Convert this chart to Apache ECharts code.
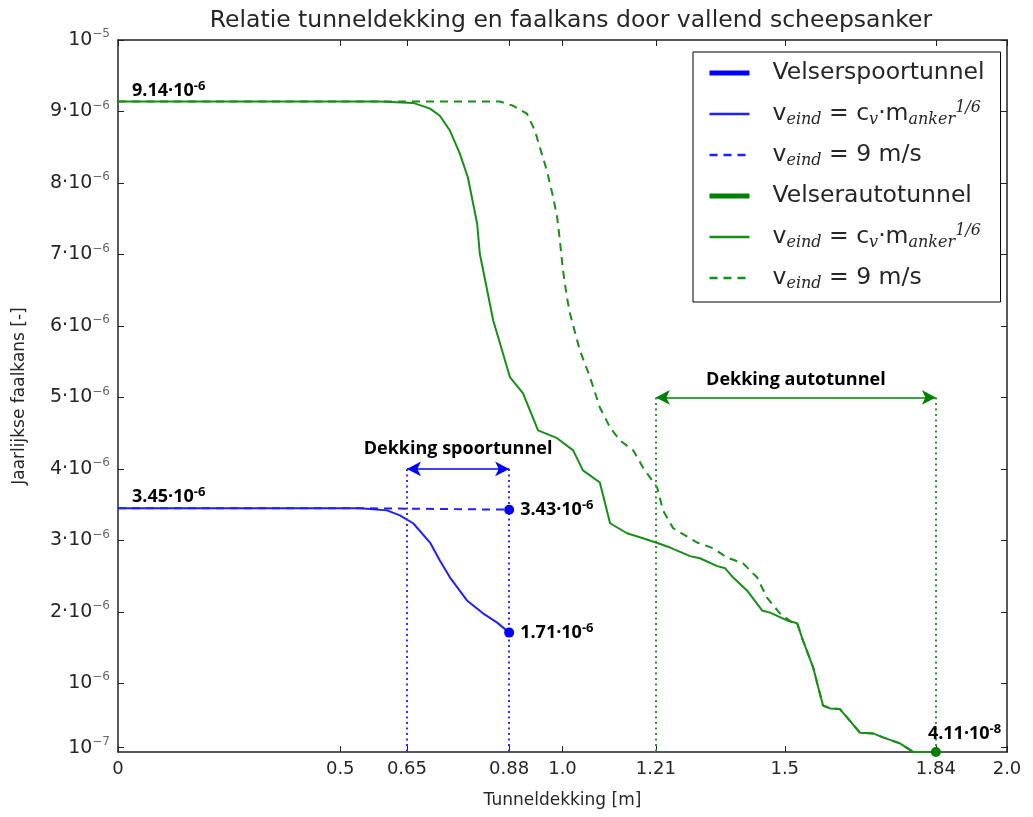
<!DOCTYPE html>
<html><head><meta charset="utf-8">
<script src="https://cdn.jsdelivr.net/npm/echarts@6/dist/echarts.min.js"></script>
<style>html,body{margin:0;padding:0;background:#fff}#c{width:1033px;height:817px}</style>
</head><body><div id="c"></div>
<script>
// ---- axis ticks ----
const xTickValues = [0, 0.5, 0.65, 0.88, 1.0, 1.21, 1.5, 1.84, 2.0];
const xTickLabels = ['0', '0.5', '0.65', '0.88', '1.0', '1.21', '1.5', '1.84', '2.0'];
// y values in units of 1e-6
const yTickValues = [0.1, 1, 2, 3, 4, 5, 6, 7, 8, 9, 10];
const yTickLabels = ['10|−7', '10|−6', '2·10|−6', '3·10|−6', '4·10|−6', '5·10|−6', '6·10|−6', '7·10|−6', '8·10|−6', '9·10|−6', '10|−5'];

// ---- series data (x: tunneldekking [m], y: faalkans in 1e-6) ----
const spoorCvX = [0, 0.544, 0.605, 0.634, 0.664, 0.702, 0.724, 0.747, 0.785, 0.821, 0.853, 0.88];
const spoorCvY = [3.45, 3.45, 3.42, 3.35, 3.24, 2.97, 2.72, 2.48, 2.16, 1.98, 1.85, 1.71];
const spoor9X = [0, 0.55, 0.88];
const spoor9Y = [3.45, 3.45, 3.43];
const autoCvX = [0, 0.589, 0.664, 0.702, 0.724, 0.747, 0.769, 0.787, 0.799, 0.808, 0.814, 0.826, 0.844, 0.882, 0.911, 0.945, 0.988, 1.024, 1.046, 1.084, 1.107, 1.145, 1.181, 1.215, 1.242, 1.287, 1.309, 1.348, 1.366, 1.384, 1.415, 1.449, 1.467, 1.505, 1.528, 1.541, 1.564, 1.586, 1.602, 1.624, 1.642, 1.669, 1.699, 1.721, 1.759, 1.789, 1.84];
const autoCvY = [9.14, 9.14, 9.12, 9.04, 8.94, 8.73, 8.41, 8.08, 7.71, 7.43, 7.01, 6.64, 6.08, 5.28, 5.06, 4.54, 4.43, 4.26, 3.98, 3.81, 3.24, 3.10, 3.03, 2.96, 2.90, 2.78, 2.75, 2.64, 2.61, 2.48, 2.30, 2.02, 1.99, 1.88, 1.84, 1.60, 1.22, 0.69, 0.65, 0.64, 0.51, 0.31, 0.30, 0.245, 0.16, 0.0411, 0.0411];
const auto9X = [0, 0.859, 0.889, 0.920, 0.938, 0.949, 0.965, 0.979, 0.988, 0.994, 1.001, 1.010, 1.017, 1.039, 1.062, 1.084, 1.107, 1.129, 1.159, 1.181, 1.213, 1.226, 1.249, 1.303, 1.339, 1.370, 1.406, 1.438, 1.460, 1.489, 1.519, 1.528, 1.541, 1.564, 1.586, 1.602, 1.624, 1.642, 1.669, 1.699, 1.721, 1.759, 1.789, 1.84];
const auto9Y = [9.14, 9.14, 9.08, 8.97, 8.73, 8.50, 8.17, 7.80, 7.52, 7.20, 6.78, 6.40, 6.17, 5.66, 5.28, 4.86, 4.58, 4.40, 4.26, 4.02, 3.74, 3.42, 3.17, 2.97, 2.89, 2.76, 2.68, 2.48, 2.20, 1.98, 1.84, 1.84, 1.60, 1.22, 0.69, 0.65, 0.64, 0.51, 0.31, 0.30, 0.245, 0.16, 0.0411, 0.0411];

// ---- annotations ----
const spoorCover = [0.65, 0.88];
const autoCover = [1.21, 1.84];
const spoorArrowY = 4;
const autoArrowY = 5;
const yMin = 0.04, yMax = 10;

const zip = (xs, ys) => xs.map((x, i) => [x, ys[i]]);
function sci(v) {
  const real = v * 1e-6;
  const e = Math.floor(Math.log10(real) + 1e-9);
  const m = real / Math.pow(10, e);
  return '{b|' + m.toFixed(2) + '·10}{s|' + e + '}';
}
const annRich = {
  b: {fontSize: 18, fontWeight: 'bold', fontFamily: 'Open Sans', color: '#000', lineHeight: 22},
  s: {fontSize: 13, fontWeight: 'bold', fontFamily: 'Open Sans', color: '#000', lineHeight: 12, verticalAlign: 'top'}
};
function textPoint(x, y, fmt, position, offset, distance) {
  return {coord: [x, y], symbol: 'circle', symbolSize: 0,
    label: {show: true, position: position, offset: offset, distance: distance || 5, formatter: fmt, rich: annRich}};
}
function dotPoint(x, y, color, fmt, offset, distance) {
  return {coord: [x, y], symbol: 'circle', symbolSize: 10, itemStyle: {color: color},
    label: {show: true, position: 'right', offset: offset || [0, 0], distance: distance || 7, formatter: fmt, rich: annRich}};
}

const BLUE = '#0000ff', BLUE_T = '#1f1fff', GREEN = '#008000', GREEN_T = '#178f17';
const FONT = 'DejaVu Sans';

const chart = echarts.init(document.getElementById('c'), null, {renderer: 'canvas'});

const axisLineStyle = {color: '#222', width: 1.5};
function findLabel(vals, labels, v) {
  for (let i = 0; i < vals.length; i++) if (Math.abs(vals[i] - v) < 1e-6) return labels[i];
  return '';
}

const option = {
  animation: false,
  backgroundColor: '#fff',
  title: {
    text: 'Relatie tunneldekking en faalkans door vallend scheepsanker',
    left: 566, top: 4, textAlign: 'center',
    textStyle: {fontSize: 23.5, fontWeight: 'normal', fontFamily: FONT, color: '#262626'}
  },
  grid: {left: 118, right: 26, top: 40, bottom: 65, containLabel: false},
  legend: {
    orient: 'vertical', left: 693, top: 52,
    padding: [9, 16, 10, 14],
    borderColor: '#000', borderWidth: 1,
    itemWidth: 40, itemHeight: 14, itemGap: 15,
    itemStyle: {opacity: 0},
    data: [
      {name: 'Velserspoortunnel', lineStyle: {width: 5}},
      {name: 'spoor_cv', lineStyle: {width: 2.5}},
      {name: 'spoor_9', lineStyle: {width: 2.5}},
      {name: 'Velserautotunnel', lineStyle: {width: 5}},
      {name: 'auto_cv', lineStyle: {width: 2.5}},
      {name: 'auto_9', lineStyle: {width: 2.5}}
    ],
    formatter: function (name) {
      if (name.endsWith('_cv')) return '{t|v}{sub|eind}{t| = c}{sub|v}{t|·m}{sub|anker}{sup|1/6}';
      if (name.endsWith('_9')) return '{t|v}{sub|eind}{t| = 9 m/s}';
      return '{t|' + name + '}';
    },
    textStyle: {
      padding: [0, 0, 0, 18],
      rich: {
        t: {fontSize: 23.5, fontFamily: FONT, color: '#262626', lineHeight: 28},
        sub: {fontSize: 16, fontFamily: 'DejaVu Serif', fontStyle: 'italic', color: '#262626', lineHeight: 14, verticalAlign: 'bottom'},
        sup: {fontSize: 16, fontFamily: 'DejaVu Serif', fontStyle: 'italic', color: '#262626', lineHeight: 14, verticalAlign: 'top'}
      }
    }
  },
  xAxis: [{
    type: 'value', min: 0, max: 2, position: 'bottom',
    name: 'Tunneldekking [m]', nameLocation: 'middle', nameGap: 40,
    nameTextStyle: {fontSize: 17, fontFamily: FONT, color: '#262626'},
    axisLine: {show: true, onZero: false, lineStyle: axisLineStyle},
    axisTick: {show: true, inside: true, length: 6, customValues: xTickValues, lineStyle: {color: '#222'}},
    axisLabel: {customValues: xTickValues, margin: 8, fontSize: 18, fontFamily: FONT, color: '#262626',
      formatter: v => findLabel(xTickValues, xTickLabels, v)},
    splitLine: {show: false}
  }, {
    type: 'value', min: 0, max: 2, position: 'top',
    axisLine: {show: true, onZero: false, lineStyle: axisLineStyle},
    axisTick: {show: true, inside: true, length: 6, customValues: xTickValues, lineStyle: {color: '#222'}},
    axisLabel: {show: false},
    splitLine: {show: false}
  }],
  yAxis: [{
    type: 'value', min: yMin, max: yMax, position: 'left',
    name: 'Jaarlijkse faalkans [-]', nameLocation: 'middle', nameGap: 90, nameRotate: 90,
    nameTextStyle: {fontSize: 17, fontFamily: FONT, color: '#262626'},
    axisLine: {show: true, onZero: false, lineStyle: axisLineStyle},
    axisTick: {show: true, inside: true, length: 6, customValues: yTickValues, lineStyle: {color: '#222'}},
    axisLabel: {customValues: yTickValues, margin: 8,
      formatter: v => { const p = findLabel(yTickValues, yTickLabels, v).split('|'); return '{m|' + p[0] + '}{e|' + p[1] + '}'; },
      rich: {
        m: {fontSize: 19, fontFamily: FONT, color: '#262626', lineHeight: 24},
        e: {fontSize: 12, fontFamily: FONT, color: '#666', lineHeight: 12, verticalAlign: 'top'}
      }},
    splitLine: {show: false}
  }, {
    type: 'value', min: yMin, max: yMax, position: 'right',
    axisLine: {show: true, onZero: false, lineStyle: axisLineStyle},
    axisTick: {show: true, inside: true, length: 6, customValues: yTickValues, lineStyle: {color: '#222'}},
    axisLabel: {show: false},
    splitLine: {show: false}
  }],
  series: [
    {name: 'Velserspoortunnel', type: 'line', data: [], symbol: 'none', lineStyle: {color: BLUE, width: 5}, itemStyle: {color: BLUE}},
    {name: 'spoor_cv', type: 'line', data: zip(spoorCvX, spoorCvY), symbol: 'none', z: 4,
      lineStyle: {color: BLUE_T, width: 2}, itemStyle: {color: BLUE_T},
      markLine: {
        silent: true, symbol: ['none', 'none'], label: {show: false}, animation: false,
        data: [
          [{coord: [spoorCover[0], spoorArrowY], symbol: 'arrow', symbolSize: [11, 14]}, {coord: [spoorCover[1], spoorArrowY], symbol: 'arrow', symbolSize: [11, 14], lineStyle: {color: BLUE, width: 1.5, type: 'solid'}}],
          [{coord: [spoorCover[0], spoorArrowY]}, {coord: [spoorCover[0], yMin], lineStyle: {color: '#3030ff', width: 2, type: [2, 3.5]}}],
          [{coord: [spoorCover[1], spoorArrowY]}, {coord: [spoorCover[1], yMin], lineStyle: {color: '#3030ff', width: 2, type: [2, 3.5]}}]
        ]
      },
      markPoint: {
        silent: true, animation: false,
        data: [
          textPoint(0, spoorCvY[0], sci(spoorCvY[0]), 'right', [9, -11]),
          textPoint((spoorCover[0] + spoorCover[1]) / 2, spoorArrowY, '{b|Dekking spoortunnel}', 'top', [0, 0], 9),
          dotPoint(spoorCvX[spoorCvX.length - 1], spoorCvY[spoorCvY.length - 1], BLUE, sci(spoorCvY[spoorCvY.length - 1]), [0, 0], 6)
        ]
      }
    },
    {name: 'spoor_9', type: 'line', data: zip(spoor9X, spoor9Y), symbol: 'none', z: 3,
      lineStyle: {color: BLUE_T, width: 2, type: [8, 6]}, itemStyle: {color: BLUE_T},
      markPoint: {
        silent: true, animation: false,
        data: [dotPoint(spoor9X[spoor9X.length - 1], spoor9Y[spoor9Y.length - 1], BLUE, sci(spoor9Y[spoor9Y.length - 1]), [0, 0], 6)]
      }
    },
    {name: 'Velserautotunnel', type: 'line', data: [], symbol: 'none', lineStyle: {color: GREEN, width: 5}, itemStyle: {color: GREEN}},
    {name: 'auto_cv', type: 'line', data: zip(autoCvX, autoCvY), symbol: 'none', z: 4,
      lineStyle: {color: GREEN_T, width: 2}, itemStyle: {color: GREEN_T},
      markLine: {
        silent: true, symbol: ['none', 'none'], label: {show: false}, animation: false,
        data: [
          [{coord: [autoCover[0], autoArrowY], symbol: 'arrow', symbolSize: [11, 14]}, {coord: [autoCover[1], autoArrowY], symbol: 'arrow', symbolSize: [11, 14], lineStyle: {color: GREEN, width: 1.5, type: 'solid'}}],
          [{coord: [autoCover[0], autoArrowY]}, {coord: [autoCover[0], yMin], lineStyle: {color: '#2e9a2e', width: 2, type: [2, 3.5]}}],
          [{coord: [autoCover[1], autoArrowY]}, {coord: [autoCover[1], yMin], lineStyle: {color: '#2e9a2e', width: 2, type: [2, 3.5]}}]
        ]
      },
      markPoint: {
        silent: true, animation: false,
        data: [
          textPoint(0, autoCvY[0], sci(autoCvY[0]), 'right', [9, -11]),
          textPoint((autoCover[0] + autoCover[1]) / 2, autoArrowY, '{b|Dekking autotunnel}', 'top', [0, 0], 7),
          dotPoint(autoCvX[autoCvX.length - 1], autoCvY[autoCvY.length - 1], GREEN, sci(autoCvY[autoCvY.length - 1]), [-20, -18], 0)
        ]
      }
    },
    {name: 'auto_9', type: 'line', data: zip(auto9X, auto9Y), symbol: 'none', z: 3,
      lineStyle: {color: GREEN_T, width: 2, type: [8, 6]}, itemStyle: {color: GREEN_T}}
  ]
};
chart.setOption(option);
</script>
</body></html>
